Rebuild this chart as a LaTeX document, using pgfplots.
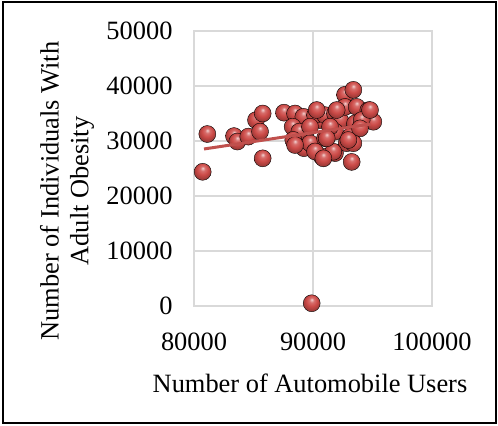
\documentclass[border=0pt]{standalone}
\usepackage{pgfplots}
\pgfplotsset{compat=1.18}
\usepackage{fontspec}
\setmainfont{Liberation Serif}
\definecolor{ballred}{RGB}{205,75,72}
\definecolor{linered}{RGB}{192,80,77}
\definecolor{gridgray}{RGB}{217,217,217}
\makeatletter
\pgfdeclareradialshading[tikz@ball]{ball}{\pgfqpoint{0bp}{11bp}}{%
  color(0bp)=(tikz@ball!25!white); color(7bp)=(tikz@ball!80!white);
  color(16bp)=(tikz@ball); color(25bp)=(tikz@ball!80!black); color(50bp)=(tikz@ball!60!black)}
\makeatother
\begin{document}
\begin{tikzpicture}[x=1bp,y=1bp]
\useasboundingbox (0,0) rectangle (498,425);
\draw[line width=2bp,black] (2.5,2.5) rectangle (495.5,422.5);
\begin{axis}[
  at={(194bp,119bp)}, anchor=south west,
  scale only axis, width=238bp, height=275bp,
  xmin=80000, xmax=100000, ymin=0, ymax=50000,
  xtick={80000,90000,100000}, ytick={0,10000,20000,30000,40000,50000},
  xticklabels={80000,90000,100000},
  yticklabels={0,10000,20000,30000,40000,50000},
  scaled ticks=false,
  tick style={draw=none},
  grid=major, grid style={gridgray, line width=1.2bp},
  axis line style={gridgray, line width=1.2bp},
  ticklabel style={font=\fontsize{26.5}{30}\selectfont},
  xticklabel style={yshift=-23bp},
  yticklabel style={xshift=-18bp},
  clip=false, clip marker paths=true,
]
\addplot[only marks, mark=ball, mark size=8.5bp, ball color=ballred] coordinates {
(80730,24400) (81120,31270) (83360,30900) (83640,29900) (84560,30800)
(85210,33800) (85770,35000) (85550,31700) (85770,26850) (87560,35150)
(88490,35000) (89190,34400) (88290,32600) (88850,31700) (88340,30200)
(89240,28700) (89750,29600) (90590,33800) (90170,34700) (91010,34700)
(91010,30500) (90730,27200) (90170,28100) (91850,35000) (92270,33800)
(91850,31700) (91850,27800) (92690,38400) (93390,39300) (92690,36200)
(93670,36200) (94650,35600) (95070,33500) (93530,33200) (94090,33800)
(93110,30800) (92830,29600) (93250,26200) (89890,500) (93950,32300)
(93390,29600) (91430,32600) (89750,32600) (91990,35630) (90310,35630)
(88490,29270) (91700,28050) (90870,26850) (92970,30180) (94790,35630)
(91150,30490)
};
\end{axis}
\begin{axis}[
  at={(194bp,119bp)}, anchor=south west,
  scale only axis, width=238bp, height=275bp,
  xmin=80000, xmax=100000, ymin=0, ymax=50000,
  hide axis, clip=false,
]
\addplot[linered, line width=3bp, no marks] coordinates {(80840,28550) (94850,33090)};
\end{axis}
\node[font=\fontsize{26.5}{30}\selectfont, align=center, rotate=90] at (67,234) {Number of Individuals With\\Adult Obesity};
\node[font=\fontsize{26.5}{30}\selectfont] at (310,42) {Number of Automobile Users};
\end{tikzpicture}
\end{document}
